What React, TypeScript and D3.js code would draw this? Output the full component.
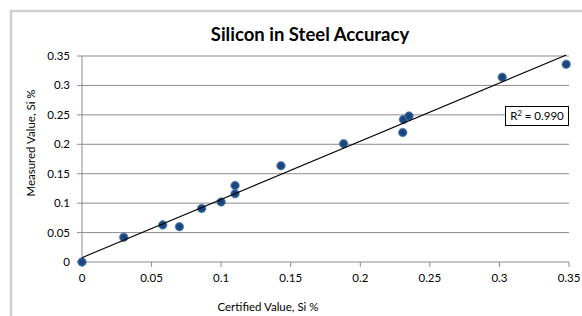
import React from "react";
import * as d3 from "d3";

const certified = [0, 0.03, 0.058, 0.07, 0.086, 0.1, 0.11, 0.11, 0.143, 0.188, 0.2305, 0.231, 0.235, 0.302, 0.348];
const measured = [0, 0.042, 0.063, 0.06, 0.091, 0.102, 0.130, 0.116, 0.1636, 0.201, 0.220, 0.242, 0.248, 0.314, 0.336];
const xTicks = [0, 0.05, 0.1, 0.15, 0.2, 0.25, 0.3, 0.35];
const yTicks = [0, 0.05, 0.1, 0.15, 0.2, 0.25, 0.3, 0.35];
const rSquaredLabel = "0.990";
const title = "Silicon in Steel Accuracy";
const xTitle = "Certified Value, Si %";
const yTitle = "Measured Value, Si %";

const W = 582;
const H = 316;
const font = "Lato, 'Open Sans', sans-serif";

export default function App() {
  const x = d3.scaleLinear().domain([0, 0.35]).range([82, 569]);
  const y = d3.scaleLinear().domain([0, 0.35]).range([262, 56]);

  const n = certified.length;
  const mx = d3.mean(certified) as number;
  const my = d3.mean(measured) as number;
  let sxy = 0, sxx = 0;
  for (let i = 0; i < n; i++) {
    sxy += (certified[i] - mx) * (measured[i] - my);
    sxx += (certified[i] - mx) ** 2;
  }
  const slope = sxy / sxx;
  const intercept = my - slope * mx;
  const x0 = d3.min(certified) as number;
  const x1 = d3.max(certified) as number;
  const line = d3.line<number>().x((d) => x(d)).y((d) => y(intercept + slope * d));

  const fmt = (v: number) => (v === 0 ? "0" : String(+v.toFixed(2)));

  return (
    <svg width={W} height={H} style={{ position: "absolute", left: 0, top: 0 }} fontFamily={font}>
      <defs>
        <radialGradient id="mk" cx="50%" cy="50%" r="50%">
          <stop offset="0%" stopColor="#1a3f72" />
          <stop offset="70%" stopColor="#1f4c85" />
          <stop offset="100%" stopColor="#3a669c" />
        </radialGradient>
      </defs>
      <rect x={0} y={0} width={W} height={H} fill="#fff" />
      <rect x={11} y={11} width={W + 20} height={H + 20} fill="none" stroke="#d0d0d0" strokeWidth={2.5} />
      <text x={310} y={41} textAnchor="middle" fontSize={18.5} fontWeight="bold" fill="#000">{title}</text>
      {yTicks.map((t) => (
        <g key={"y" + t}>
          <line x1={x(0)} x2={x(0.35)} y1={y(t)} y2={y(t)} stroke="#8c8c8c" strokeWidth={1} />
          <line x1={77} x2={82} y1={y(t)} y2={y(t)} stroke="#8c8c8c" strokeWidth={1} />
          <text x={70} y={y(t) + 4} textAnchor="end" fontSize={11.5} fill="#000">{fmt(t)}</text>
        </g>
      ))}
      <line x1={x(0)} x2={x(0)} y1={y(0)} y2={y(0.35)} stroke="#8c8c8c" strokeWidth={1} />
      {xTicks.map((t) => (
        <g key={"x" + t}>
          <line x1={x(t)} x2={x(t)} y1={262} y2={267} stroke="#8c8c8c" strokeWidth={1} />
          <text x={x(t)} y={282} textAnchor="middle" fontSize={11.5} fill="#000">{fmt(t)}</text>
        </g>
      ))}
      <text x={268} y={311} textAnchor="middle" fontSize={11.5} fill="#000">{xTitle}</text>
      <text transform={`translate(35,143) rotate(-90)`} textAnchor="middle" fontSize={11.5} fill="#000">{yTitle}</text>
      {certified.map((c, i) => (
        <circle key={i} cx={x(c)} cy={y(measured[i])} r={4.3} fill="url(#mk)" stroke="#4d77aa" strokeWidth={0.6} />
      ))}
      <path d={line([x0, x1]) as string} stroke="#000" strokeWidth={1.1} fill="none" />
      <rect x={505.5} y={106.5} width={63} height={19} fill="#fff" stroke="#000" strokeWidth={1} />
      <text x={537} y={120} textAnchor="middle" fontSize={11.5} fill="#000">
        R<tspan fontSize={7.5} dy={-4}>2</tspan><tspan dy={4}> = {rSquaredLabel}</tspan>
      </text>
    </svg>
  );
}
